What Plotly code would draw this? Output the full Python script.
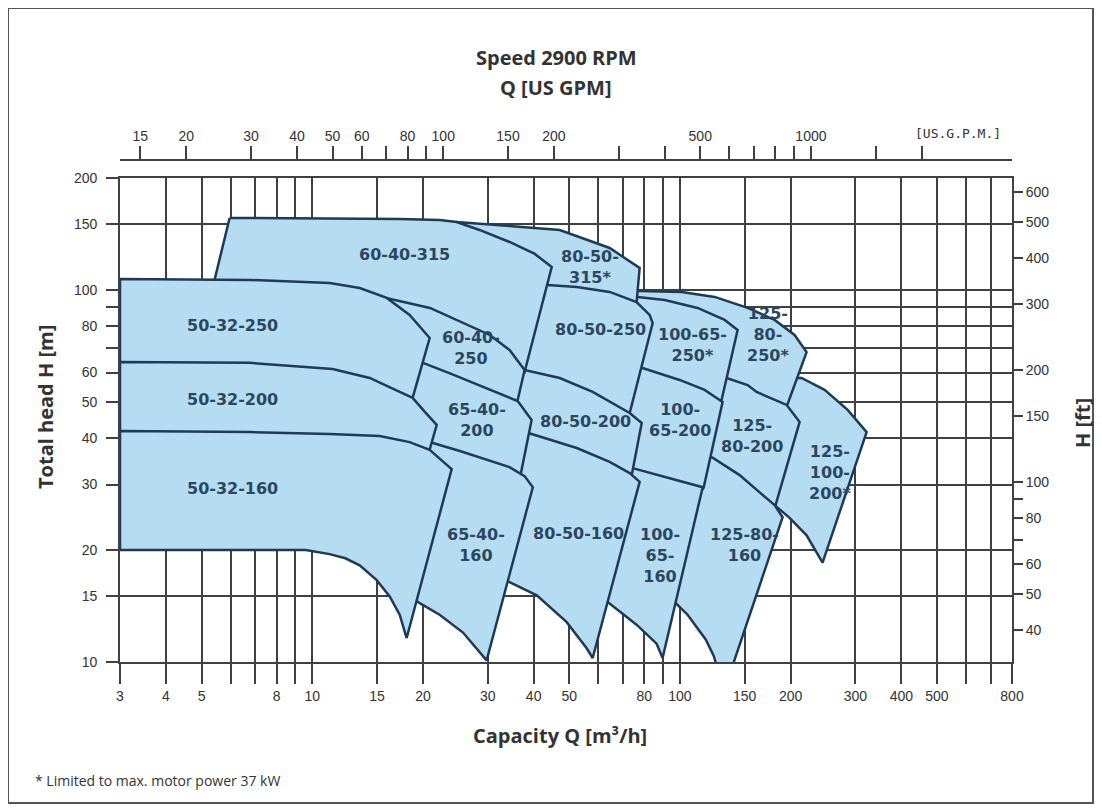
import numpy as np
import plotly.graph_objects as go

# ---------------- axis data ----------------
q_grid = [3, 4, 5, 6, 7, 8, 9, 10, 15, 20, 30, 40, 50, 60, 70, 80, 90, 100, 150, 200, 300, 400, 500, 600, 700, 800]
q_labels = ["3", "4", "5", "", "", "8", "", "10", "15", "20", "30", "40", "50", "", "", "80", "", "100",
            "150", "200", "300", "400", "500", "", "", "800"]
h_grid = [10, 15, 20, 30, 40, 50, 60, 70, 80, 90, 100, 150, 200]
h_labels = ["10", "15", "20", "30", "40", "50", "60", "", "80", "", "100", "150", "200"]
ft_ticks = [40, 50, 60, 70, 80, 90, 100, 150, 200, 300, 400, 500, 600]
ft_labels = ["40", "50", "60", "", "80", "", "100", "150", "200", "300", "400", "500", "600"]
gpm_ticks = [15, 20, 30, 40, 50, 60, 70, 80, 90, 100, 150, 200, 300, 400, 500, 600, 700, 800, 900, 1000, 1500, 2000]
gpm_labels = ["15", "20", "30", "40", "50", "60", "", "80", "", "100", "150", "200", "", "", "500", "", "", "", "",
              "1000", "", ""]
M3H_TO_GPM = 4.402868
M_TO_FT = 3.28084
Q_MIN, Q_MAX = 3, 800
H_MIN, H_MAX = 10, 200

# ---------------- pump envelopes (Q in m3/h, H in m) ----------------
q_125_100_200 = [192.6, 214.2, 247.4, 285.8, 321.9, 244.3, 221.0, 198.7, 180.9, 169.9, 175.4]
h_125_100_200 = [58.0, 58.0, 53.9, 47.6, 41.5, 18.5, 21.9, 24.4, 26.4, 26.4, 44.7]

q_125_80_250 = [70.7, 77.7, 101.1, 124.3, 152.8, 180.9, 205.0, 221.0, 196.3, 180.9, 124.3, 73.0]
h_125_80_250 = [99.4, 99.4, 98.8, 95.8, 89.5, 83.1, 75.7, 68.1, 49.4, 44.7, 44.7, 78.1]

q_125_80_200 = [124.3, 133.9, 152.8, 161.6, 195.1, 211.6, 182.0, 175.4, 113.1, 122.0]
h_125_80_200 = [59.1, 58.0, 55.5, 53.2, 49.1, 44.2, 26.4, 24.1, 32.8, 50.6]

q_125_80_160 = [113.1, 122.7, 145.3, 172.1, 180.9, 190.2, 138.2, 126.6, 123.5, 117.5, 111.7, 104.9, 97.3, 90.9, 106.3]
h_125_80_160 = [36.0, 35.4, 31.8, 27.6, 26.4, 24.5, 9.6, 9.6, 10.4, 11.5, 12.3, 13.4, 14.4, 15.1, 29.0]

q_100_65_250 = [73.0, 76.7, 90.9, 111.7, 132.3, 143.5, 129.8, 124.3, 77.7]
h_100_65_250 = [95.8, 95.8, 94.0, 89.5, 83.1, 78.1, 50.6, 47.6, 55.5]

q_100_65_200 = [73.0, 79.1, 99.8, 116.7, 130.6, 116.0, 109.6, 68.6, 70.7]
h_100_65_200 = [62.5, 61.7, 57.3, 53.9, 50.0, 29.4, 27.3, 31.8, 44.7]

q_100_65_160 = [70.7, 74.4, 93.8, 115.3, 89.7, 86.4, 76.2, 63.6, 56.8, 60.5]
h_100_65_160 = [33.2, 33.2, 31.2, 29.5, 10.25, 11.2, 12.6, 14.5, 15.6, 30.8]

q_80_50_315 = [22.2, 24.7, 34.4, 47.1, 64.4, 77.7, 76.2, 73.0, 42.9, 36.7, 22.2]
h_80_50_315 = [150.4, 152.3, 148.6, 145.0, 129.7, 114.6, 92.3, 83.1, 94.0, 106.4, 136.3]

q_80_50_250 = [41.5, 43.7, 52.4, 64.4, 76.2, 82.7, 84.3, 73.0, 60.5, 36.7]
h_80_50_250 = [106.4, 103.1, 101.9, 98.8, 92.8, 85.7, 81.5, 46.7, 44.7, 57.3]

q_80_50_200 = [35.5, 37.8, 47.1, 57.9, 73.0, 78.7, 74.4, 73.0, 41.5, 36.7, 34.4]
h_80_50_200 = [60.2, 60.9, 58.0, 53.2, 46.7, 43.9, 32.8, 29.9, 34.9, 39.5, 50.6]

q_80_50_160 = [37.8, 39.5, 52.4, 64.4, 73.0, 77.7, 57.9, 55.7, 49.2, 40.8, 34.4, 31.3, 33.4]
h_80_50_160 = [41.5, 41.0, 37.6, 34.5, 32.2, 30.5, 10.25, 10.9, 12.8, 15.1, 16.4, 17.1, 30.8]

q_60_40_315 = [5.96, 17.3, 22.2, 24.7, 28.5, 34.4, 40.3, 44.8, 37.8, 32.3, 17.3, 5.26]
h_60_40_315 = [156.2, 155.2, 154.2, 152.3, 145.0, 134.6, 125.0, 115.3, 60.2, 69.0, 78.1, 94.0]

q_60_40_250 = [14.8, 15.9, 20.9, 25.7, 30.4, 34.4, 37.8, 36.2, 34.4, 19.6, 14.8]
h_60_40_250 = [94.0, 95.2, 89.5, 81.5, 75.7, 69.0, 60.9, 50.6, 47.6, 50.6, 78.1]

q_65_40_200 = [19.0, 20.0, 23.6, 28.5, 33.4, 36.2, 39.5, 36.9, 35.5, 20.9, 17.3, 17.8]
h_65_40_200 = [64.8, 63.7, 59.8, 55.5, 51.9, 50.3, 44.7, 32.0, 29.0, 32.8, 44.7, 57.3]

q_65_40_160 = [19.6, 21.3, 25.2, 29.8, 34.4, 37.8, 39.8, 29.8, 25.7, 22.2, 19.6, 17.3, 18.4]
h_65_40_160 = [39.5, 38.8, 36.9, 34.9, 33.4, 31.6, 29.5, 10.1, 12.0, 13.4, 14.4, 15.6, 36.0]

q_50_32_250 = [3.0, 6.76, 11.15, 13.46, 15.94, 18.40, 20.86, 18.75, 17.84, 3.0]
h_50_32_250 = [107.1, 106.4, 104.4, 101.2, 95.2, 85.7, 74.3, 51.3, 44.7, 44.7]

q_50_32_200 = [3.0, 6.76, 11.36, 14.33, 17.29, 18.75, 20.21, 21.80, 20.86, 20.60, 3.0]
h_50_32_200 = [64.0, 63.7, 61.3, 58.0, 53.2, 51.3, 47.1, 43.4, 37.2, 32.8, 32.8]

q_50_32_160 = [3.0, 6.76, 11.15, 15.25, 18.40, 20.86, 23.94, 18.06, 17.29, 16.24, 14.97, 13.46, 12.3, 11.15,
               9.6, 3.0]
h_50_32_160 = [41.8, 41.5, 41.0, 40.5, 39.0, 37.2, 33.0, 11.6, 13.4, 15.0, 16.6, 18.2, 19.0, 19.5, 20.0, 20.0]

# drawing order: back to front
pumps = [
    (q_125_100_200, h_125_100_200), (q_125_80_250, h_125_80_250), (q_125_80_200, h_125_80_200),
    (q_125_80_160, h_125_80_160), (q_100_65_250, h_100_65_250), (q_100_65_200, h_100_65_200),
    (q_100_65_160, h_100_65_160), (q_80_50_315, h_80_50_315), (q_80_50_250, h_80_50_250),
    (q_80_50_200, h_80_50_200), (q_80_50_160, h_80_50_160), (q_60_40_315, h_60_40_315),
    (q_60_40_250, h_60_40_250), (q_65_40_200, h_65_40_200), (q_65_40_160, h_65_40_160),
    (q_50_32_250, h_50_32_250), (q_50_32_200, h_50_32_200), (q_50_32_160, h_50_32_160),
]

# ---------------- labels ----------------
label_text = ["60-40-315", "80-50-<br>315*", "50-32-250", "60-40-<br>250", "80-50-250", "100-65-<br>250*",
              "125-<br>80-<br>250*", "50-32-200", "65-40-<br>200", "80-50-200", "100-<br>65-200",
              "125-<br>80-200", "125-<br>100-<br>200*", "50-32-160", "65-40-<br>160", "80-50-160",
              "100-<br>65-<br>160", "125-80-<br>160"]
label_q = [17.8, 56.8, 6.07, 27.0, 60.8, 108.3, 173.2, 6.07, 28.0, 55.4, 99.8, 156.7, 255.4, 6.07, 27.8, 53.0, 88.1, 150.0]
label_h = [124.2, 115.3, 80.5, 69.9, 78.1, 71.2, 75.7, 50.9, 44.7, 44.2, 44.7, 40.5, 32.4, 29.2, 20.6, 22.2, 19.3, 20.6]

FILL = "#b5dcf1"
EDGE = "#1f3a56"
GRID = "#404040"
TXT = "#333333"

fig = go.Figure()
for q, h in pumps:
    fig.add_trace(go.Scatter(x=q + [q[0]], y=h + [h[0]], mode="lines", fill="toself", fillcolor=FILL,
                             line=dict(color=EDGE, width=2.5), hoverinfo="skip", showlegend=False))

# helper traces so the secondary axes render
fig.add_trace(go.Scatter(x=[100], y=[50], xaxis="x2", yaxis="y", mode="markers",
                         marker=dict(opacity=0), showlegend=False, hoverinfo="skip"))
fig.add_trace(go.Scatter(x=[100], y=[100], xaxis="x", yaxis="y2", mode="markers",
                         marker=dict(opacity=0), showlegend=False, hoverinfo="skip"))

ann = []
for t, q, h in zip(label_text, label_q, label_h):
    ann.append(dict(x=np.log10(q), y=np.log10(h), xref="x", yref="y", text=t, showarrow=False,
                    xanchor="center", yanchor="middle",
                    font=dict(family="DejaVu Sans", size=16, color="#2b4660", weight="bold"),
                    align="center"))

# page layout: browser body margin of 8 px; plot area on page x 120..1012, y 178..662
# paper y 0 at page 662 px and 1 at page 160 px
W_PLOT = 892.0
H_PAPER = 502.0


def px(x):
    return (x - 120) / W_PLOT


def py(y):
    return (662 - y) / H_PAPER


title_font = dict(family="Open Sans", size=20, color="#333333", weight="bold")
ann += [
    dict(x=px(556), y=py(58), text="Speed 2900 RPM", font=title_font),
    dict(x=px(556), y=py(88), text="Q [US GPM]", font=title_font),
    dict(x=px(958), y=py(133), text="[US.G.P.M.]", font=dict(family="DejaVu Sans Mono", size=13, color=TXT)),
    dict(x=px(45), y=py(407), text="Total head H [m]", textangle=-90, font=title_font),
    dict(x=px(1082), y=py(423), text="H [ft]", textangle=-90, font=title_font),
    dict(x=px(560), y=py(735), text="Capacity Q [m³/h]", font=title_font),
]
for a in ann[len(label_text):]:
    a.update(xref="paper", yref="paper", showarrow=False, xanchor="center", yanchor="middle")
ann.append(dict(x=px(33), y=py(780), xref="paper", yref="paper", text="* Limited to max. motor power 37 kW",
                showarrow=False, xanchor="left", yanchor="middle",
                font=dict(family="Open Sans", size=14, color=TXT)))

shapes = [dict(type="rect", xref="paper", yref="paper", x0=px(8), x1=px(1093), y0=py(803), y1=py(8),
               line=dict(color="#555555", width=2), layer="below")]

tickfont = dict(family="Liberation Sans", size=14, color=TXT)
fig.update_layout(
    width=1094, height=802,
    margin=dict(l=112, r=90, t=152, b=148),
    paper_bgcolor="white", plot_bgcolor="white",
    showlegend=False,
    xaxis=dict(type="log", range=[np.log10(Q_MIN), np.log10(Q_MAX)], tickmode="array", tickvals=q_grid,
               ticktext=q_labels, ticks="outside", ticklen=20, tickwidth=1.7, tickcolor=GRID,
               showgrid=True, gridcolor=GRID, gridwidth=1.7, showline=True, linecolor=GRID, linewidth=1.7,
               mirror=True, zeroline=False, tickfont=tickfont, anchor="y"),
    yaxis=dict(type="log", range=[np.log10(H_MIN), np.log10(H_MAX)], domain=[0, 484 / 502], tickmode="array",
               tickvals=h_grid, ticktext=h_labels, ticks="outside", ticklen=12, tickwidth=1.7, tickcolor=GRID,
               showgrid=True, gridcolor=GRID, gridwidth=1.7, showline=True, linecolor=GRID, linewidth=1.7,
               mirror=True, zeroline=False, tickfont=tickfont, anchor="x", ticklabelstandoff=6),
    xaxis2=dict(type="log", overlaying="x", anchor="free", position=1, side="top",
                range=[np.log10(Q_MIN * M3H_TO_GPM), np.log10(Q_MAX * M3H_TO_GPM)], tickmode="array",
                tickvals=gpm_ticks, ticktext=gpm_labels, ticks="outside", ticklen=13, tickwidth=1.7,
                tickcolor=GRID, showgrid=False, showline=True, linecolor=GRID, linewidth=1.7, zeroline=False,
                tickfont=tickfont),
    yaxis2=dict(type="log", overlaying="y", side="right", anchor="x",
                range=[np.log10(H_MIN * M_TO_FT), np.log10(H_MAX * M_TO_FT)], tickmode="array",
                tickvals=ft_ticks, ticktext=ft_labels, ticks="outside", ticklen=10, tickwidth=1.7,
                tickcolor=GRID, showgrid=False, showline=False, zeroline=False, tickfont=tickfont),
    annotations=ann,
    shapes=shapes,
)

fig.write_html("out.html")
